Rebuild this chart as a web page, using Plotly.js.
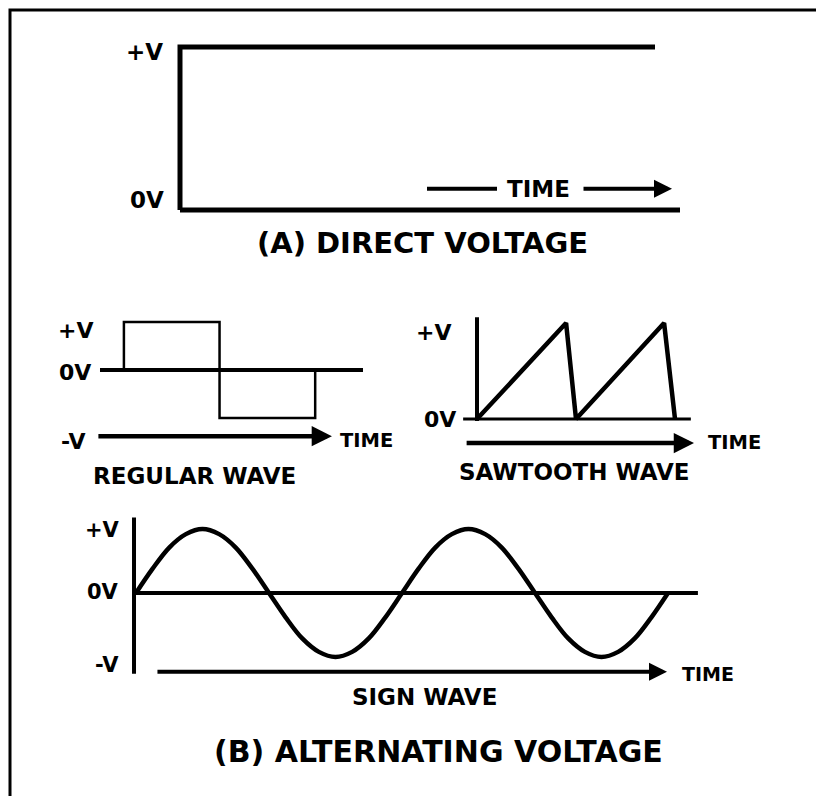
<!DOCTYPE html>
<html>
<head>
<meta charset="utf-8">
<script src="https://cdn.plot.ly/plotly-3.0.1.min.js"></script>
<style>html,body{margin:0;padding:0;background:#fff}</style>
</head>
<body>
<div id="chart" style="width:816px;height:796px"></div>
<script>
// ---------------- data ----------------
// (A) direct voltage
const dcTime = [0, 0, 9.5];
const dcVolt = [0, 1, 1];
const dcBaseTime = [0, 10];
const dcBaseVolt = [0, 0];
const dcArrowShaft = [4.94, 6.34];   // plain segment before "TIME"
const dcArrow = [8.04, 9.84];        // tail, head after "TIME"
const dcArrowVolt = 0.13;

// regular (square) wave
const sqTime = [1, 1, 5, 5, 9, 9];
const sqVolt = [0, 1, 1, -1, -1, 0];
const sqZeroTime = [0, 11];
const sqArrow = [-0.13, 9.7];
const sqArrowVolt = -1.38;

// sawtooth wave
const sawTime = [0, 4.5, 5, 9.45, 10];
const sawVolt = [0, 1, 0, 1, 0];
const sawZeroTime = [-0.7, 10.8];
const sawAxisVolt = [-0.02, 1.06];
const sawArrow = [-0.6, 10.96];
const sawArrowVolt = -0.25;

// sine wave (read at every 1/16 period)
const sineTime = [0, 0.5, 1, 1.5, 2, 2.5, 3, 3.5, 4, 4.5, 5, 5.5, 6, 6.5, 7, 7.5, 8,
                  8.5, 9, 9.5, 10, 10.5, 11, 11.5, 12, 12.5, 13, 13.5, 14, 14.5, 15, 15.5, 16];
const sineVolt = [0, 0.38, 0.71, 0.92, 1, 0.92, 0.71, 0.38, 0, -0.38, -0.71, -0.92, -1, -0.92, -0.71, -0.38, 0,
                  0.38, 0.71, 0.92, 1, 0.92, 0.71, 0.38, 0, -0.38, -0.71, -0.92, -1, -0.92, -0.71, -0.38, 0];
const sineZeroTime = [0, 16.9];
const sineAxisVolt = [-1.26, 1.18];
const sineArrow = [0.6, 15.97];
const sineArrowVolt = -1.23;

// text
const levelLabels = ['+V', '0V', '-V'];
const captions = ['REGULAR WAVE', 'SAWTOOTH WAVE', 'SIGN WAVE'];
const sectionTitles = ['(A) DIRECT VOLTAGE', '(B) ALTERNATING VOLTAGE'];
const timeLabel = 'TIME';

// ---------------- layout helpers ----------------
const W = 816, H = 796;
function xAx(p0, v0, p1, v1, lo, hi, anchor) {
  const s = (p1 - p0) / (v1 - v0);
  const a = p0 + (lo - v0) * s, b = p0 + (hi - v0) * s;
  return {domain: [a / W, b / W], range: [lo, hi], visible: false, anchor: anchor, fixedrange: true};
}
function yAx(p0, v0, p1, v1, lo, hi, anchor) {
  const s = (p1 - p0) / (v1 - v0);
  const a = p0 + (lo - v0) * s, b = p0 + (hi - v0) * s;
  return {domain: [1 - a / H, 1 - b / H], range: [lo, hi], visible: false, anchor: anchor, fixedrange: true};
}
const FAM = 'DejaVu Sans, Liberation Sans, Arial, sans-serif';
function txt(t, x, y, xr, yr, size, xanchor) {
  return {text: t, x: x, y: y, xref: xr, yref: yr, showarrow: false,
          xanchor: xanchor || 'center', yanchor: 'middle',
          font: {family: FAM, size: size, color: '#000', weight: 'bold'}};
}
function arrow(tail, head, y, xr, yr, w) {
  return {text: '', x: head, y: y, ax: tail, ay: y, xref: xr, yref: yr, axref: xr, ayref: yr,
          showarrow: true, arrowhead: 2, arrowsize: 0.9, arrowwidth: w, arrowcolor: '#000', standoff: 0};
}
function line(x, y, xa, ya, w, shape) {
  return {x: x, y: y, xaxis: xa, yaxis: ya, type: 'scatter', mode: 'lines',
          line: {color: '#000', width: w, shape: shape || 'linear'},
          hoverinfo: 'skip', showlegend: false};
}

const traces = [
  // (A)
  line(dcTime, dcVolt, 'x', 'y', 5),
  line(dcBaseTime, dcBaseVolt, 'x', 'y', 5),
  line(dcArrowShaft, [dcArrowVolt, dcArrowVolt], 'x', 'y', 4),
  // regular wave
  line(sqZeroTime, [0, 0], 'x2', 'y2', 4),
  line(sqTime, sqVolt, 'x2', 'y2', 2.5),
  // sawtooth
  line(sawZeroTime, [0, 0], 'x3', 'y3', 3),
  line([0, 0], sawAxisVolt, 'x3', 'y3', 4),
  line(sawTime, sawVolt, 'x3', 'y3', 4.5),
  // sine
  line(sineZeroTime, [0, 0], 'x4', 'y4', 4),
  line([-0.06, -0.06], sineAxisVolt, 'x4', 'y4', 4),
  line(sineTime, sineVolt, 'x4', 'y4', 4.5, 'spline')
];

const annotations = [
  // (A)
  txt(levelLabels[0], -0.3, 0.97, 'x', 'y', 23, 'right'),
  txt(levelLabels[1], -0.28, 0.06, 'x', 'y', 23, 'right'),
  txt(timeLabel, 7.16, dcArrowVolt, 'x', 'y', 23),
  arrow(dcArrow[0], dcArrow[1], dcArrowVolt, 'x', 'y', 4),
  txt(sectionTitles[0], 4.84, -0.2, 'x', 'y', 29),
  // regular
  txt(levelLabels[0], -0.2, 0.82, 'x2', 'y2', 22, 'right'),
  txt(levelLabels[1], -0.3, -0.06, 'x2', 'y2', 22, 'right'),
  txt(levelLabels[2], -0.5, -1.48, 'x2', 'y2', 22, 'right'),
  arrow(sqArrow[0], sqArrow[1], sqArrowVolt, 'x2', 'y2', 4.5),
  txt(timeLabel, 9.95, -1.46, 'x2', 'y2', 19.5, 'left'),
  txt(captions[0], 3.97, -2.2, 'x2', 'y2', 23),
  // sawtooth
  txt(levelLabels[0], -1.2, 0.9, 'x3', 'y3', 22, 'right'),
  txt(levelLabels[1], -0.96, -0.01, 'x3', 'y3', 22, 'right'),
  arrow(sawArrow[0], sawArrow[1], sawArrowVolt, 'x3', 'y3', 4.5),
  txt(timeLabel, 11.57, -0.24, 'x3', 'y3', 19.5, 'left'),
  txt(captions[1], 4.9, -0.55, 'x3', 'y3', 23),
  // sine
  txt(levelLabels[0], -0.42, 0.98, 'x4', 'y4', 21, 'right'),
  txt(levelLabels[1], -0.45, 0.02, 'x4', 'y4', 21, 'right'),
  txt(levelLabels[2], -0.45, -1.13, 'x4', 'y4', 21, 'right'),
  arrow(sineArrow[0], sineArrow[1], sineArrowVolt, 'x4', 'y4', 4),
  txt(timeLabel, 16.36, -1.27, 'x4', 'y4', 19, 'left'),
  txt(captions[2], 8.69, -1.62, 'x4', 'y4', 23),
  txt(sectionTitles[1], 9.11, -2.48, 'x4', 'y4', 30)
];

const layout = {
  width: W, height: H,
  margin: {l: 0, r: 0, t: 0, b: 0, pad: 0},
  paper_bgcolor: '#fff', plot_bgcolor: 'rgba(0,0,0,0)',
  showlegend: false,
  xaxis:  xAx(180, 0, 680, 10, -1, 10.5, 'y'),
  yaxis:  yAx(210, 0, 47, 1, -0.35, 1.15, 'x'),
  xaxis2: xAx(100, 0, 363, 11, -1.5, 12, 'y2'),
  yaxis2: yAx(370, 0, 322, 1, -2.5, 1.2, 'x2'),
  xaxis3: xAx(477, 0, 675, 10, -2, 12.5, 'y3'),
  yaxis3: yAx(419, 0, 323, 1, -0.7, 1.15, 'x3'),
  xaxis4: xAx(136, 0, 668, 16, -1, 17.5, 'y4'),
  yaxis4: yAx(593, 0, 529, 1, -2.8, 1.3, 'x4'),
  annotations: annotations,
  shapes: [{type: 'rect', xref: 'paper', yref: 'paper',
            x0: 10 / W, x1: 1.05, y0: -0.05, y1: 1 - 10 / H,
            line: {color: '#000', width: 3}, fillcolor: 'rgba(0,0,0,0)'}]
};

Plotly.newPlot('chart', traces, layout, {staticPlot: true, displayModeBar: false});
</script>
</body>
</html>
